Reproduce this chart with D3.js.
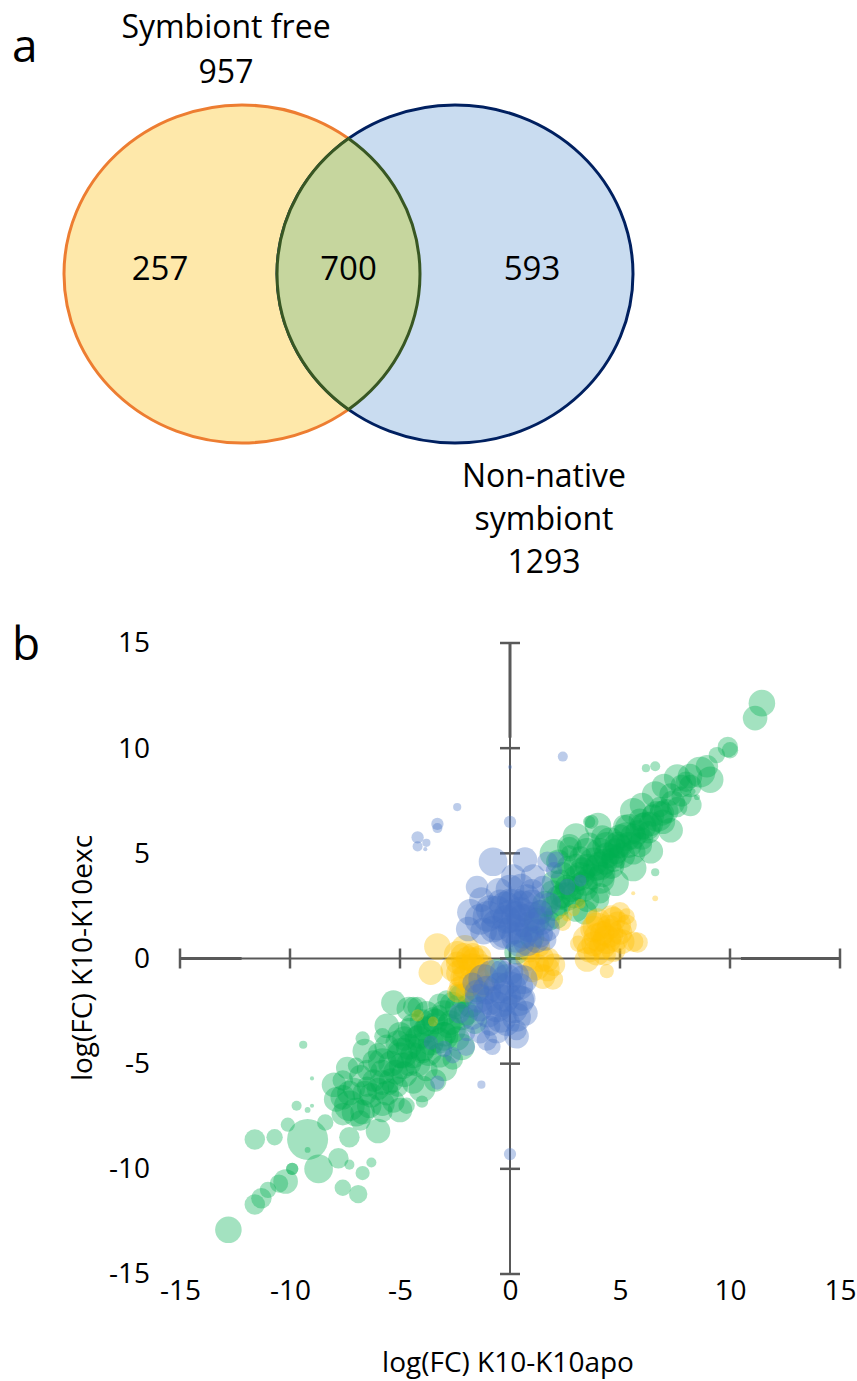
<!DOCTYPE html>
<html><head><meta charset="utf-8">
<script src="https://cdn.jsdelivr.net/npm/d3@7"></script>
<style>body{margin:0;background:#fff}svg{display:block}text{font-family:"Open Sans",sans-serif;fill:#000}</style>
</head><body><svg id="c" width="857" height="1381"></svg>
<script>
// ---------- data ----------
const vennSetLabels = [["Symbiont free"], ["Non-native", "symbiont"]];
const vennTotals = [957, 1293];
const vennRegions = [257, 700, 593];   // only-left, both, only-right
const xTicks = [-15, -10, -5, 0, 5, 10, 15];
const yTicks = [-15, -10, -5, 0, 5, 10, 15];
const xTitle = "log(FC) K10-K10apo";
const yTitle = "log(FC) K10-K10exc";

// [log(FC) K10-K10apo, log(FC) K10-K10exc, bubble size]
const greenPts = [
 [11.45,12.14,42],[11.14,11.43,36],[9.9,10.05,25],[10.0,9.9,16],[9.4,9.67,16],
 [8.64,8.86,56],[8.18,8.67,36],[9.1,8.5,42],[8.0,8.4,25],[8.95,9.14,30],
 [6.18,9.05,4],[6.6,9.14,6],[8.5,7.67,2],[8.3,7.95,2],
 [7.8,7.7,25],[7.4,7.4,36],[6.7,6.76,56],[6.05,6.3,42],[6.8,7.2,25],
 [3.7,6.5,12],[5.45,6.14,56],[5.0,5.8,36],[4.55,5.5,56],[4.1,5.05,49],
 [2.7,5.3,25],[2.7,5.0,16],[3.5,4.4,36],[4.7,4.86,36],[4.1,3.76,49],[3.95,2.8,36],[6.6,4.1,4],
 [3.3,3.4,56],[2.6,2.95,49],[3.0,2.33,36],[2.3,3.76,25],
 [3.5,5.05,49],[4.4,5.33,49],[5.3,5.8,49],[6.2,6.3,49],[6.95,6.5,36],[4.1,4.4,49],[3.2,3.9,49],
 [2.6,3.4,36],[4.7,4.7,36],[5.6,5.05,36],[5.0,5.33,36],[2.6,4.4,25],[1.95,3.14,36],[2.7,5.33,36],
 [3.5,2.8,36],[4.1,3.1,25],[2.3,2.5,25],[1.8,1.8,25],[3.6,6.5,9],[5.8,6.0,36],[6.5,6.8,30],
 [7.1,7.0,36],[7.8,8.2,30],[3.8,4.6,49],[4.9,5.4,42],[3.0,3.8,42],[2.2,2.9,36],[1.4,2.2,36],
 [3.3,4.2,40],[4.4,4.9,40],[5.6,5.8,40],[6.3,6.0,30],[5.9,6.6,30],[2.8,3.3,40],[3.9,4.3,40],
 [4.8,5.1,40],[6.0,5.7,30],[3.2,4.8,30],
 [1.6,2.6,40],[2.0,2.4,40],[2.4,3.0,40],[2.9,3.0,40],[3.4,3.6,40],[3.7,3.9,40],[4.2,4.0,40],
 [4.3,4.6,40],[4.6,4.4,40],[5.1,4.9,40],[5.4,5.4,40],[5.9,5.4,36],[6.4,6.4,36],[6.9,6.9,36],
 [2.0,3.6,36],[2.4,4.0,36],[3.0,4.4,36],[3.6,5.4,36],[4.2,5.8,30],[5.2,6.3,30],[7.3,7.8,30],
 [7.6,7.2,25],[8.2,8.2,30],[1.2,1.8,40],[2.1,2.0,36],
 [2.0,5.0,49],[3.0,5.8,42],[4.0,6.3,42],[5.6,7.0,42],[6.6,7.8,42],[7.6,8.6,42],[4.8,3.6,42],
 [5.6,4.3,42],[6.4,5.1,36],[7.3,6.1,36],[8.2,7.3,30],[3.4,2.2,36],[2.2,4.6,36],[6.0,7.3,36],[7.0,8.2,36],
 [1.0,1.0,36],[0.3,0.3,36],[-0.6,-0.6,36],[-1.5,-1.5,36],[-2.2,-1.8,36],
 [-2.6,-2.2,40],[-3.0,-2.6,40],[-3.4,-3.0,40],[-3.8,-3.4,40],[-4.2,-3.8,40],[-4.6,-4.2,40],
 [-5.0,-4.6,40],[-5.4,-5.0,40],[-5.8,-5.4,36],[-6.2,-5.8,30],[-2.8,-3.2,36],[-3.6,-4.0,40],
 [-4.4,-4.6,40],[-5.2,-5.4,36],[-6.0,-6.2,30],[-2.0,-2.6,36],[-3.2,-2.2,30],[-4.0,-3.0,36],
 [-4.8,-3.8,36],[-3.0,-3.6,36],[-4.0,-4.4,36],[-4.6,-5.0,36],
 [-1.8,-2.2,40],[-2.2,-2.8,40],[-2.6,-3.4,40],[-3.2,-3.9,40],[-3.7,-4.5,40],[-4.2,-5.0,40],
 [-4.8,-5.5,40],[-5.4,-5.8,36],[-5.6,-6.4,36],[-6.3,-6.5,36],[-6.4,-7.0,36],[-3.8,-2.6,36],
 [-4.4,-3.2,36],[-5.0,-3.6,36],[-5.6,-4.2,36],[-6.2,-4.9,30],[-6.8,-5.6,30],[-2.4,-3.8,36],
 [-3.2,-4.6,36],[-3.8,-5.3,30],[-4.4,-5.9,30],[-6.6,-6.4,36],[-7.1,-6.2,30],[-5.3,-6.8,30],
 [-2.2,-4.2,42],[-3.0,-5.2,42],[-4.0,-6.2,42],[-5.0,-7.2,36],[-4.6,-2.4,36],[-5.6,-3.2,36],
 [-6.6,-4.4,36],[-7.4,-5.2,30],[-8.0,-6.0,36],[-6.0,-8.2,36],[-3.4,-5.8,30],[-1.6,-3.0,36],
 [-5.3,-2.1,36],[-4.2,-2.3,25],[-6.7,-3.8,12],[-5.8,-3.7,16],[-9.4,-4.1,4],[-9.0,-5.7,1],
 [-6.5,-5.3,25],[-7.3,-6.4,36],[-5.8,-4.95,49],[-4.9,-4.5,56],[-4.0,-4.2,49],[-3.0,-3.7,49],
 [-2.7,-3.05,36],[-3.5,-2.9,36],[-2.4,-2.3,36],[-4.1,-3.7,36],[-4.9,-5.1,42],[-5.8,-5.9,36],
 [-5.1,-6.1,25],[-2.6,-4.8,25],[-3.2,-2.6,16],[-3.8,-3.2,25],[-4.55,-3.4,36],[-5.1,-4.0,36],
 [-6.0,-4.5,25],[-7.0,-5.1,16],[-7.6,-5.8,25],[-7.9,-6.7,36],[-6.7,-7.3,36],[-4.4,-2.3,25],
 [-3.6,-2.8,4],[-2.4,-1.6,16],[-2.9,-1.95,20],
 [-12.8,-12.9,42],[-11.6,-11.7,25],[-11.3,-11.4,25],[-11.0,-11.0,16],[-10.5,-10.7,20],
 [-10.2,-10.6,36],[-9.9,-10.0,9],[-9.9,-10.0,9],[-8.7,-10.0,49],[-9.2,-8.6,100],[-11.6,-8.6,25],
 [-10.7,-8.5,16],[-10.1,-7.9,12],[-9.7,-7.0,6],[-9.2,-7.2,2],[-9.0,-7.0,1],[-8.4,-7.8,16],
 [-7.8,-9.5,25],[-7.3,-9.8,6],[-6.7,-10.2,12],[-6.3,-9.7,6],[-7.6,-10.9,16],[-6.9,-11.2,20],
 [-7.3,-8.5,25],[-7.3,-7.0,56],[-7.6,-6.6,36],[-6.8,-7.7,25],[-5.8,-7.3,25],[-5.8,-6.9,36],
 [-4.7,-7.0,16],[-4.0,-6.8,9],[-5.45,-6.1,16],[-6.5,-6.1,25],[-9.2,-9.1,2],[-7.0,-7.3,49],[-7.6,-7.4,30]
];
const yellowPts = [
 [-3.3,0.57,42],[-3.6,-0.67,36],[-2.05,0.43,49],[-2.1,-0.38,36],[-1.7,-0.38,42],[-1.25,-0.38,36],
 [-2.3,-1.33,25],[-2.0,-1.6,25],[-1.36,0.1,30],[-1.9,0.0,36],[-1.5,-0.9,36],[-2.2,-0.9,30],
 [-1.2,-1.3,30],[-2.4,-0.2,30],[-1.7,0.2,30],
 [-2.4,0.2,42],[-2.0,-0.9,42],[-1.6,-0.1,42],[-2.3,-0.7,42],[-1.8,-1.2,36],[-2.6,-0.5,36],
 [-1.4,-0.6,36],[-2.1,0.1,42],[-2.4,-1.6,25],
 [1.5,-0.86,36],[1.7,-0.5,36],[1.36,0.57,25],[0.9,0.3,25],[1.7,-0.05,36],[1.2,-0.4,42],
 [1.95,-1.0,25],[2.0,-0.3,30],[1.4,0.0,42],[1.0,-0.6,30],[0.8,0.0,36],
 [2.4,1.7,16],[2.9,2.3,9],[3.2,2.6,6],[2.6,2.0,6],
 [3.95,1.5,49],[4.7,1.86,36],[5.0,2.2,25],[5.3,2.0,16],[3.5,0.9,49],[4.4,0.9,49],[5.0,1.24,36],
 [5.6,0.8,25],[3.95,0.3,42],[4.7,0.43,36],[3.5,-0.05,36],[4.4,-0.6,12],[6.6,2.86,2],[5.6,3.1,1],
 [3.1,0.7,16],[3.8,1.9,16],[5.3,1.6,25],[5.8,0.76,25],[4.2,1.2,36],[4.5,1.5,36],[3.8,0.7,36],
 [4.8,0.9,36],[4.3,0.2,30],
 [4.0,1.0,49],[4.5,1.2,49],[3.8,1.4,42],[4.9,1.6,42],[4.2,0.6,42],[3.6,0.4,36],[5.1,0.8,36],
 [4.6,2.0,30],[4.0,1.8,36],
 [-4.2,-2.7,9],[-3.5,-3.0,6]
];
const bluePts = [
 [-4.2,5.76,9],[-4.2,5.33,6],[-3.8,5.5,4],[-3.85,5.2,1],[-3.3,6.4,9],[-3.3,6.2,6],[-2.4,7.2,4],
 [0.0,9.1,1],[2.4,9.6,6],[0.0,6.5,9],
 [-0.77,4.6,49],[0.68,4.7,36],[-1.36,1.86,56],[-0.9,2.33,49],[-0.77,1.4,42],[0.15,3.9,36],
 [1.05,3.9,36],[1.7,4.6,25],[2.1,4.7,16],
 [0.45,2.2,56],[0.9,1.5,56],[0.15,1.4,56],[1.2,0.9,42],[0.45,0.75,49],[-0.15,1.86,49],
 [1.36,2.2,36],[0.77,2.9,42],[1.7,1.4,36],[-0.45,2.7,36],[0.0,2.7,42],[0.6,1.2,56],[0.3,2.0,56],
 [1.0,2.0,49],[-0.4,1.0,36],[1.6,0.9,30],
 [-1.0,2.0,56],[-0.6,2.2,64],[-0.2,2.4,64],[0.2,2.6,56],[0.6,2.5,56],[1.0,2.6,49],[1.4,1.8,49],
 [1.3,1.2,49],[0.8,0.8,49],[0.3,1.0,56],[-0.2,1.2,56],[-0.6,1.6,56],[0.0,3.3,49],[0.5,3.4,42],
 [-0.5,3.2,42],[1.0,3.2,36],[1.8,2.6,30],[0.6,1.8,64],[0.0,2.0,64],[-1.2,1.3,42],[-1.8,2.2,42],
 [-1.3,2.8,36],[-1.9,1.4,36],[-1.5,3.4,30],[1.5,3.4,30],
 [2.0,4.2,16],[2.6,3.4,16],[3.2,3.7,9],
 [-1.05,-1.5,49],[-0.15,-1.0,56],[0.45,-1.33,42],[-0.6,-2.3,56],[0.15,-2.4,49],[-1.36,-2.4,36],
 [0.6,-1.9,36],[-0.15,-3.05,42],[0.3,-3.4,25],[-0.9,-3.2,25],[-1.5,-1.6,36],[-1.7,-1.15,25],
 [-0.5,-1.4,56],[-0.2,-1.8,56],[-0.9,-2.0,49],[0.3,-0.8,36],[-0.4,-0.6,30],
 [-1.2,-1.0,56],[-0.8,-0.8,56],[0.0,-1.4,64],[0.4,-2.0,56],[-0.4,-2.0,64],[-1.0,-2.6,49],
 [-0.4,-2.8,56],[0.3,-2.8,49],[-1.4,-1.9,49],[0.6,-1.0,49],[0.0,-0.6,42],[-0.6,-3.4,42],
 [-1.7,-2.8,36],[0.7,-2.6,36],
 [-2.3,-2.6,25],[-1.36,-3.55,25],[-1.95,-3.55,16],[-3.0,-4.3,16],[-1.05,-3.9,25],[0.3,-3.7,36],
 [-0.8,-4.2,16],[-3.3,-5.9,12],[-1.3,-6.0,4],[0.0,-9.3,9],[-2.6,-4.6,16],[-2.0,-4.2,20],[-3.6,-4.0,12]
];
const seriesColors = ["#00B050", "#FFC000", "#4472C4"];

// ---------- drawing ----------
const svg = d3.select("#c");
const FONT = '"Open Sans", sans-serif';

svg.append("text").attr("x", 12).attr("y", 62).attr("font-size", 46).text("a");
svg.append("text").attr("x", 12).attr("y", 660).attr("font-size", 46).text("b");

// ---- Venn ----
const E = { rx: 178, ry: 169, cy: 274, cxL: 242, cxR: 455 };
const venn = svg.append("g");
venn.append("ellipse").attr("cx", E.cxL).attr("cy", E.cy).attr("rx", E.rx).attr("ry", E.ry)
  .attr("fill", "#FEE8AA").attr("stroke", "#ED7D31").attr("stroke-width", 3);
venn.append("ellipse").attr("cx", E.cxR).attr("cy", E.cy).attr("rx", E.rx).attr("ry", E.ry)
  .attr("fill", "#C9DCF0").attr("stroke", "#002060").attr("stroke-width", 3);
const xi = (E.cxL + E.cxR) / 2;
const dy = E.ry * Math.sqrt(1 - Math.pow((xi - E.cxL) / E.rx, 2));
const lens = `M${xi},${E.cy - dy} A${E.rx},${E.ry} 0 0 0 ${xi},${E.cy + dy} A${E.rx},${E.ry} 0 0 0 ${xi},${E.cy - dy} Z`;
venn.append("path").attr("d", lens).attr("fill", "#C6D69E").attr("stroke", "#385723").attr("stroke-width", 3);

const vfs = 33;
venn.append("text").attr("x", 160).attr("y", 280).attr("text-anchor", "middle").attr("font-size", vfs).text(vennRegions[0]);
venn.append("text").attr("x", xi).attr("y", 280).attr("text-anchor", "middle").attr("font-size", vfs).text(vennRegions[1]);
venn.append("text").attr("x", 532).attr("y", 280).attr("text-anchor", "middle").attr("font-size", vfs).text(vennRegions[2]);

const tfs = 32;
const t1 = venn.append("text").attr("text-anchor", "middle").attr("font-size", tfs);
vennSetLabels[0].concat([String(vennTotals[0])]).forEach((s, i) =>
  t1.append("tspan").attr("x", 226).attr("y", 38 + i * 45).text(s));
const t2 = venn.append("text").attr("text-anchor", "middle").attr("font-size", tfs);
vennSetLabels[1].concat([String(vennTotals[1])]).forEach((s, i) =>
  t2.append("tspan").attr("x", 544).attr("y", 487 + i * 43).text(s));

// ---- Scatter ----
const x = d3.scaleLinear().domain([-15, 15]).range([180, 840]);
const y = d3.scaleLinear().domain([-15, 15]).range([1274, 643]);
const r = d3.scaleSqrt().domain([0, 100]).range([0, 20.5]);
const axisColor = "#595959";

const ax = svg.append("g");
ax.append("line").attr("x1", x(-15)).attr("x2", x(15)).attr("y1", y(0)).attr("y2", y(0))
  .attr("stroke", axisColor).attr("stroke-width", 2);
ax.append("line").attr("x1", x(0)).attr("x2", x(0)).attr("y1", y(-15)).attr("y2", y(15))
  .attr("stroke", axisColor).attr("stroke-width", 2);
[[-15, -12.2], [10.5, 15]].forEach(([a, b]) =>
  ax.append("line").attr("x1", x(a)).attr("x2", x(b)).attr("y1", y(0)).attr("y2", y(0))
    .attr("stroke", axisColor).attr("stroke-width", 3.2));
[[10.5, 15]].forEach(([a, b]) =>
  ax.append("line").attr("x1", x(0)).attr("x2", x(0)).attr("y1", y(a)).attr("y2", y(b))
    .attr("stroke", axisColor).attr("stroke-width", 3));
xTicks.forEach(t => ax.append("line").attr("x1", x(t)).attr("x2", x(t)).attr("y1", y(0) - 10).attr("y2", y(0) + 10)
  .attr("stroke", axisColor).attr("stroke-width", 2.5));
yTicks.forEach(t => ax.append("line").attr("x1", x(0) - 10).attr("x2", x(0) + 10).attr("y1", y(t)).attr("y2", y(t))
  .attr("stroke", axisColor).attr("stroke-width", 2.5));

const series = [greenPts, yellowPts, bluePts];
series.forEach((pts, i) => {
  svg.append("g").selectAll("circle").data(pts).join("circle")
    .attr("cx", d => x(d[0])).attr("cy", d => y(d[1])).attr("r", d => r(d[2]))
    .attr("fill", seriesColors[i]).attr("fill-opacity", 0.36);
});

const gx = svg.append("g").attr("transform", `translate(0,${y(-15)})`)
  .call(d3.axisBottom(x).tickValues(xTicks).tickSize(0).tickPadding(6).tickFormat(d3.format("d")));
const gy = svg.append("g").attr("transform", `translate(156,0)`)
  .call(d3.axisLeft(y).tickValues(yTicks).tickSize(0).tickPadding(6).tickFormat(d3.format("d")));
[gx, gy].forEach(g => {
  g.select(".domain").remove();
  g.selectAll("text").attr("font-size", 28).attr("font-family", FONT).attr("fill", "#000");
});
gx.selectAll("text").text(d => d < 0 ? "-" + Math.abs(d) : d);
gy.selectAll("text").text(d => d < 0 ? "-" + Math.abs(d) : d);

svg.append("text").attr("x", 508).attr("y", 1372).attr("text-anchor", "middle").attr("font-size", 28).text(xTitle);
svg.append("text").attr("transform", `translate(92,958) rotate(-90)`).attr("text-anchor", "middle").attr("font-size", 28).text(yTitle);
</script></body></html>
